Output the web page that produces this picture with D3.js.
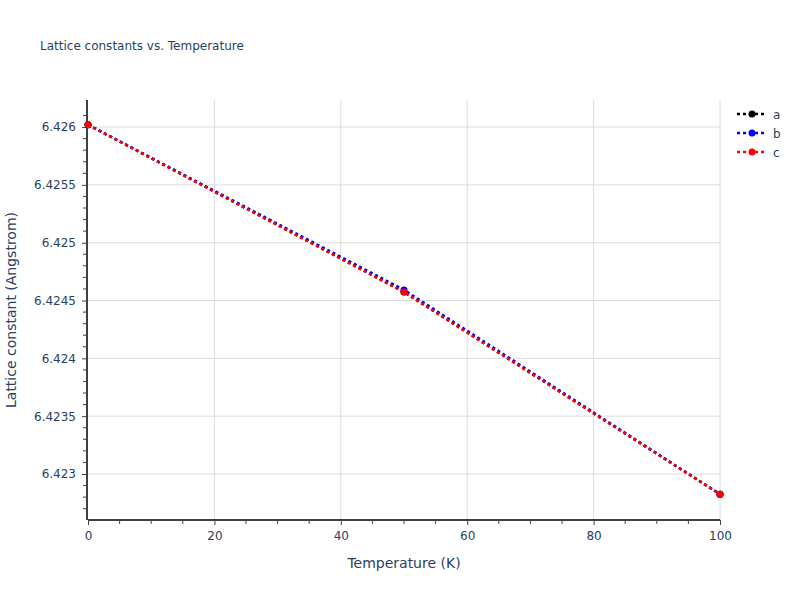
<!DOCTYPE html>
<html><head><meta charset="utf-8">
<script src="https://cdn.jsdelivr.net/npm/d3@7"></script>
<style>body{margin:0;background:#fff;} text{font-family:"DejaVu Sans",sans-serif;}</style>
</head><body>
<svg id="chart" width="800" height="600"></svg>
<script>
const temperatures = [0, 50, 100];
const seriesNames = ["a", "b", "c"];
const seriesA = [6.42602, 6.424573, 6.422825];
const seriesB = [6.42602, 6.424592, 6.422825];
const seriesC = [6.42602, 6.424573, 6.422825];
const seriesColors = ["#000000", "#0000ff", "#ff0000"];
const xTicks = [0, 20, 40, 60, 80, 100];
const yTicks = [6.423, 6.4235, 6.424, 6.4245, 6.425, 6.4255, 6.426];
const yTickLabels = ["6.423", "6.4235", "6.424", "6.4245", "6.425", "6.4255", "6.426"];

const series = [seriesA, seriesB, seriesC];
const svg = d3.select("#chart");
const m = {l: 88, r: 80, t: 100, b: 80};
const W = 800, H = 600;
const x = d3.scaleLinear().domain([0, 100]).range([m.l, W - m.r]);
const y = d3.scaleLinear().domain([6.422602, 6.426234]).range([H - m.b, m.t]);
const txt = "#2a3f5f";
const font = "DejaVu Sans";

// grid
svg.append("g").selectAll("line").data(xTicks.slice(1)).join("line")
  .attr("x1", d => x(d)).attr("x2", d => x(d)).attr("y1", m.t).attr("y2", H - m.b)
  .attr("stroke", "#dcdcdc").attr("stroke-width", 1);
svg.append("g").selectAll("line").data(yTicks).join("line")
  .attr("x1", m.l).attr("x2", W - m.r).attr("y1", d => y(d)).attr("y2", d => y(d))
  .attr("stroke", "#dcdcdc").attr("stroke-width", 1);

// axes
const xMinor = d3.range(0, 101, 5).filter(v => v % 20 !== 0);
const yMinor = d3.range(6.4227, 6.4262, 0.0001).filter(v => Math.abs(Math.round(v*2000) - v*2000) > 0.05 && v > y.domain()[0] && v < y.domain()[1]);
const xAxis = svg.append("g").attr("transform", `translate(0,${H - m.b})`)
  .call(d3.axisBottom(x).tickValues(xTicks).tickSize(5).tickPadding(6).tickFormat(d3.format("d")));
xAxis.select(".domain").attr("stroke", "#000").attr("stroke-width", 1.5).attr("d", `M${m.l},0H${W-m.r}`);
xAxis.selectAll(".tick line").attr("stroke", "#444");
xAxis.selectAll(".tick text").attr("fill", txt).attr("font-size", 12).attr("font-family", font);
svg.append("g").selectAll("line").data(xMinor).join("line")
  .attr("x1", d => x(d)).attr("x2", d => x(d)).attr("y1", H - m.b).attr("y2", H - m.b + 4)
  .attr("stroke", "#444");

const yAxis = svg.append("g").attr("transform", `translate(${m.l - 1},0)`)
  .call(d3.axisLeft(y).tickValues(yTicks).tickSize(5).tickPadding(6).tickFormat((d, i) => yTickLabels[i]));
yAxis.select(".domain").attr("stroke", "#000").attr("stroke-width", 1.5).attr("d", `M0,${m.t}V${H-m.b}`);
yAxis.selectAll(".tick line").attr("stroke", "#444");
yAxis.selectAll(".tick text").attr("fill", txt).attr("font-size", 12).attr("font-family", font);
svg.append("g").selectAll("line").data(yMinor).join("line")
  .attr("x1", m.l - 5).attr("x2", m.l - 1).attr("y1", d => y(d)).attr("y2", d => y(d))
  .attr("stroke", "#444");

// titles
svg.append("text").attr("x", 40).attr("y", 50).attr("fill", txt).attr("font-size", 12).text("Lattice constants vs. Temperature");
svg.append("text").attr("x", (m.l + W - m.r) / 2).attr("y", 568).attr("text-anchor", "middle")
  .attr("fill", txt).attr("font-size", 14).text("Temperature (K)");
svg.append("text").attr("transform", `translate(16,${(m.t + H - m.b) / 2}) rotate(-90)`).attr("text-anchor", "middle")
  .attr("fill", txt).attr("font-size", 14).text("Lattice constant (Angstrom)");

// data
const line = d3.line().x((d, i) => x(temperatures[i])).y(d => y(d));
svg.append("clipPath").attr("id", "clip").append("rect")
  .attr("x", m.l - 6).attr("y", m.t).attr("width", W - m.r - m.l + 12).attr("height", H - m.b - m.t);
series.forEach((s, k) => {
  const g = svg.append("g").attr("clip-path", "url(#clip)");
  g.append("path").datum(s).attr("d", line).attr("fill", "none")
    .attr("stroke", seriesColors[k]).attr("stroke-width", 2.5).attr("stroke-dasharray", "3,3");
  g.selectAll("circle").data(s).join("circle")
    .attr("cx", (d, i) => x(temperatures[i])).attr("cy", d => y(d)).attr("r", 3.5)
    .attr("fill", seriesColors[k]);
});

// legend
const lg = svg.append("g").attr("transform", "translate(737,114)");
seriesNames.forEach((n, k) => {
  const row = lg.append("g").attr("transform", `translate(0,${k * 19})`);
  row.append("line").attr("x1", 0).attr("x2", 30).attr("y1", 0).attr("y2", 0)
    .attr("stroke", seriesColors[k]).attr("stroke-width", 2.5).attr("stroke-dasharray", "3,3");
  row.append("circle").attr("cx", 15).attr("cy", 0).attr("r", 3.5).attr("fill", seriesColors[k]);
  row.append("text").attr("x", 36).attr("y", 5).attr("fill", txt).attr("font-size", 12).text(n);
});
</script>
</body></html>
